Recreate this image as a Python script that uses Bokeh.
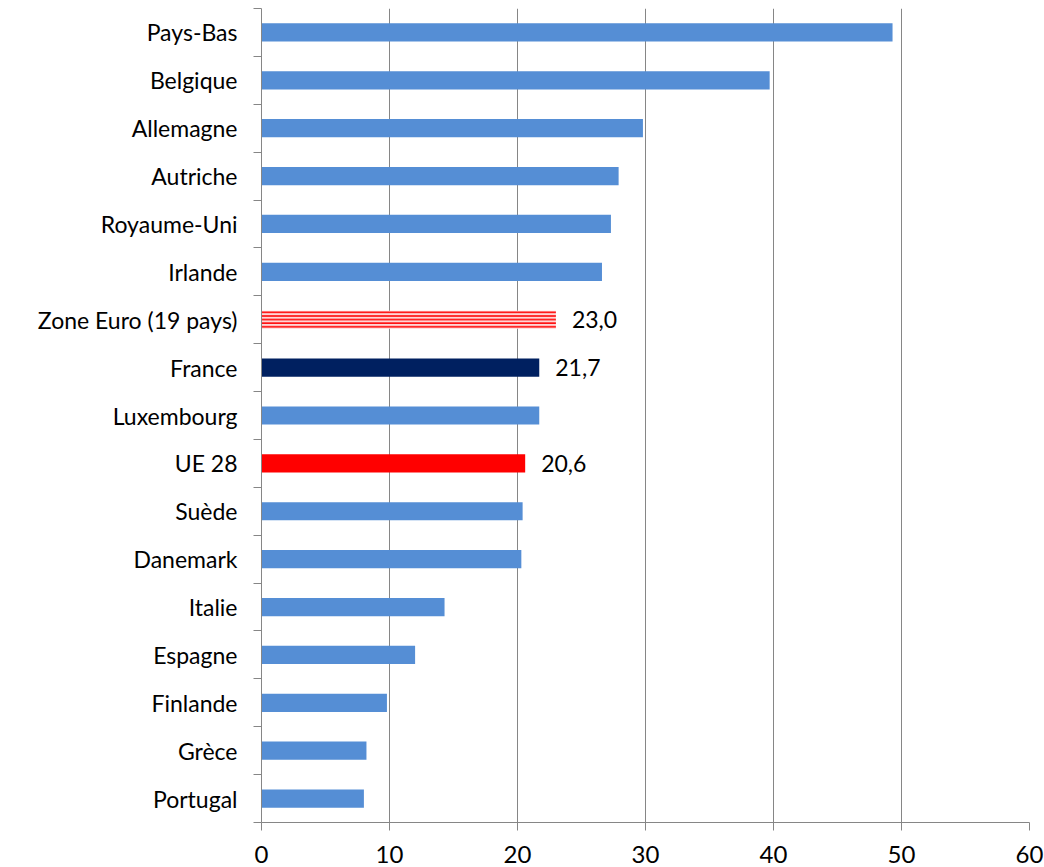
from bokeh.plotting import figure
from bokeh.models import FixedTicker, Range1d, ColumnDataSource
from bokeh.core.properties import value
from bokeh.embed import file_html
from bokeh.resources import INLINE

countries = ["Pays-Bas", "Belgique", "Allemagne", "Autriche", "Royaume-Uni", "Irlande",
             "Zone Euro (19 pays)", "France", "Luxembourg", "UE 28", "Suède", "Danemark",
             "Italie", "Espagne", "Finlande", "Grèce", "Portugal"]
values = [49.3, 39.7, 29.8, 27.9, 27.3, 26.6, 23.0, 21.7, 21.7, 20.6, 20.4, 20.3,
          14.3, 12.0, 9.8, 8.2, 8.0]
x_ticks = [0, 10, 20, 30, 40, 50, 60]
labelled = {"Zone Euro (19 pays)": "23,0", "France": "21,7", "UE 28": "20,6"}

FONT = "Lato"
BLUE = "#558ed5"
n = len(countries)
ypos = [n - i - 0.5 for i in range(n)]

p = figure(frame_width=768, frame_height=814, output_backend="svg", toolbar_location=None,
           x_range=Range1d(0, 60), y_range=Range1d(0, n),
           min_border_left=261, min_border_right=15, min_border_top=8, min_border_bottom=45)
p.outline_line_color = None
p.background_fill_color = "white"
p.border_fill_color = "white"

colors = []
for c in countries:
    if c == "France":
        colors.append("#002060")
    elif c == "UE 28":
        colors.append("#ff0000")
    else:
        colors.append(BLUE)

normal = [i for i, c in enumerate(countries) if c != "Zone Euro (19 pays)"]
src = ColumnDataSource(dict(y=[ypos[i] for i in normal], v=[values[i] for i in normal],
                            c=[colors[i] for i in normal]))
p.hbar(y="y", left=0, right="v", height=0.38, fill_color="c", line_color=None, source=src)

zi = countries.index("Zone Euro (19 pays)")
p.hbar(y=[ypos[zi]], left=0, right=[values[zi]], height=0.38, fill_color="#ffd6d6",
       line_color=None, hatch_pattern="horizontal_line", hatch_color="#ff1010",
       hatch_scale=3.6, hatch_weight=1.7)

lsrc = ColumnDataSource(dict(x=[values[countries.index(k)] for k in labelled],
                             y=[ypos[countries.index(k)] for k in labelled],
                             t=list(labelled.values())))
p.text(x="x", y="y", text="t", source=lsrc, x_offset=16, text_baseline="middle",
       text_align="left", text_font=value(FONT), text_font_size="23px", text_color="black")

# x axis
xa = p.xaxis[0]
xa.ticker = FixedTicker(ticks=x_ticks)
xa.axis_line_color = "#868686"
xa.major_tick_line_color = "#868686"
xa.major_tick_out = 8
xa.major_tick_in = 0
xa.minor_tick_line_color = None
xa.major_label_standoff = 15
xa.major_label_text_font = FONT
xa.major_label_text_font_size = "24px"
xa.major_label_text_color = "black"

# y axis
ya = p.yaxis[0]
ya.ticker = FixedTicker(ticks=ypos, minor_ticks=list(range(n + 1)))
ya.major_label_overrides = {y: c for y, c in zip(ypos, countries)}
ya.axis_line_color = "#868686"
ya.major_tick_line_color = None
ya.major_tick_out = 0
ya.major_tick_in = 0
ya.minor_tick_line_color = "#868686"
ya.minor_tick_out = 8
ya.minor_tick_in = 0
ya.major_label_standoff = 16
ya.major_label_text_font = FONT
ya.major_label_text_font_size = "23px"
ya.major_label_text_color = "black"

p.xgrid.ticker = FixedTicker(ticks=x_ticks)
p.xgrid.grid_line_color = "#868686"
p.ygrid.grid_line_color = None

open("out.html", "w").write(file_html(p, INLINE))
